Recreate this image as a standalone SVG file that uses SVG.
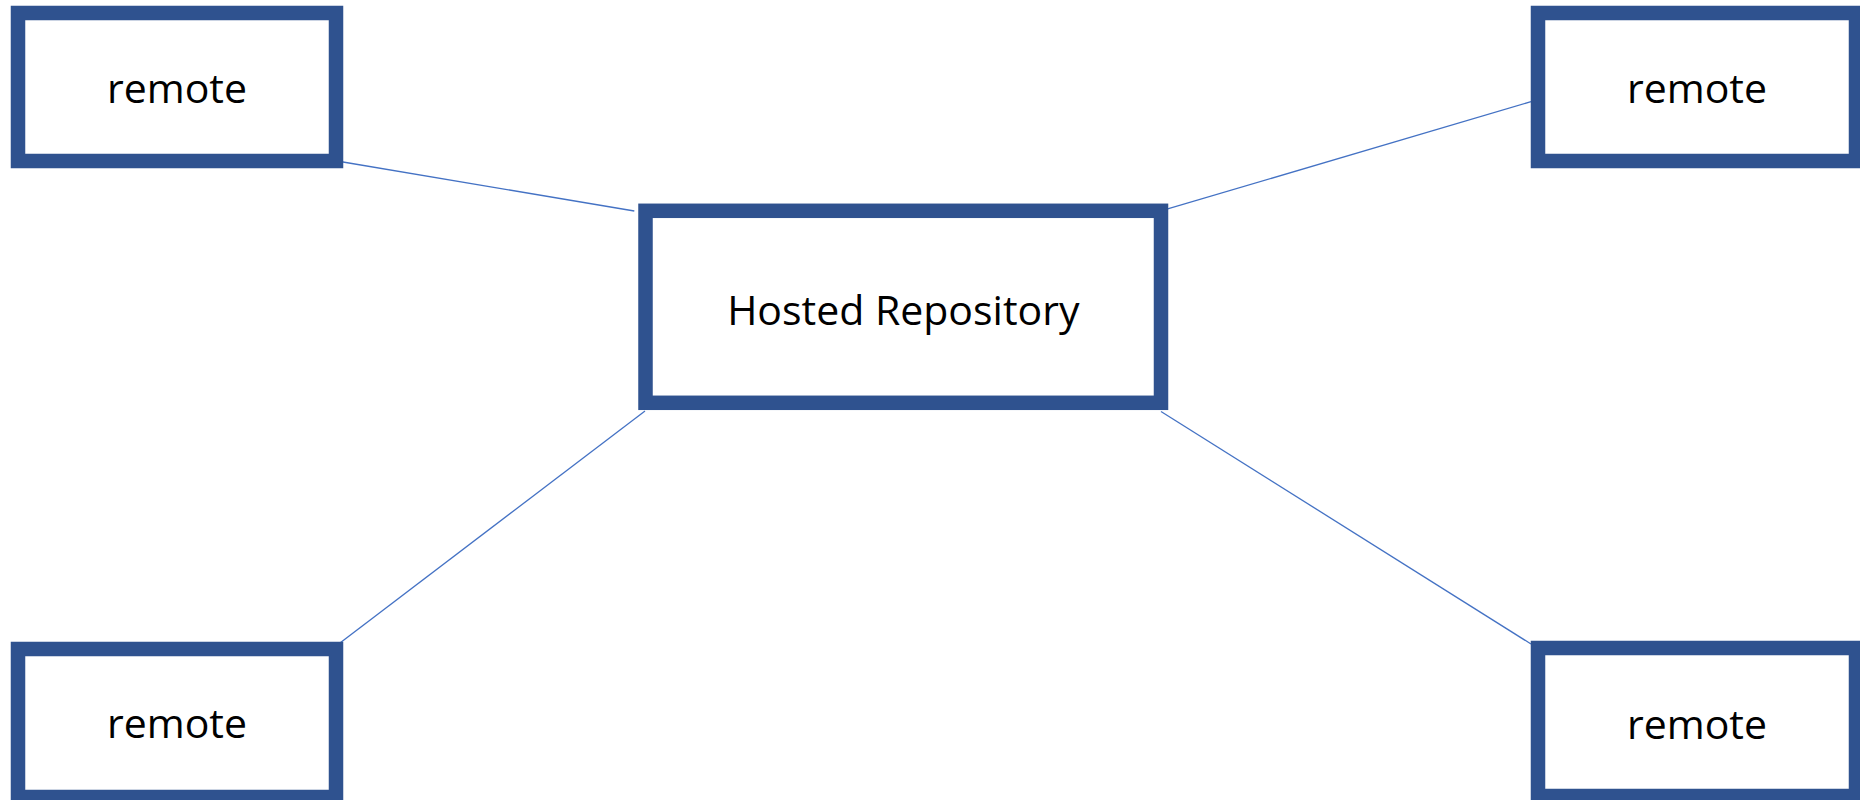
<svg xmlns="http://www.w3.org/2000/svg" width="1860" height="800" viewBox="0 0 1860 800">
<style>
.box{fill:#fff;stroke:#2f528f;stroke-width:14.5}
.lbl{font-family:"Open Sans","Liberation Sans",sans-serif;font-size:41px;fill:#000;text-anchor:middle}
.conn line{stroke:#4472c4;stroke-width:1.3}
</style>
<rect width="1860" height="800" fill="#fff"/>
<g id="connectors" class="conn">
<line x1="340" y1="161.5" x2="634.3" y2="211"/>
<line x1="1161.7" y1="210.7" x2="1531" y2="101.7"/>
<line x1="645" y1="411" x2="336" y2="646"/>
<line x1="1161" y1="411.5" x2="1531" y2="644"/>
</g>
<g id="remote-tl">
<rect class="box" x="18" y="13" width="318" height="148"/>
<text class="lbl" x="177" y="103.3">remote</text>
</g>
<g id="remote-tr">
<rect class="box" x="1538" y="13" width="318" height="148"/>
<text class="lbl" x="1697" y="103.3">remote</text>
</g>
<g id="hosted">
<rect class="box" x="645.5" y="210.8" width="515.5" height="192"/>
<text class="lbl" x="903.3" y="324.5">Hosted Repository</text>
</g>
<g id="remote-bl">
<rect class="box" x="18" y="649" width="318" height="148"/>
<text class="lbl" x="177" y="738.3">remote</text>
</g>
<g id="remote-br">
<rect class="box" x="1538" y="648" width="318" height="148"/>
<text class="lbl" x="1697" y="739">remote</text>
</g>
</svg>
